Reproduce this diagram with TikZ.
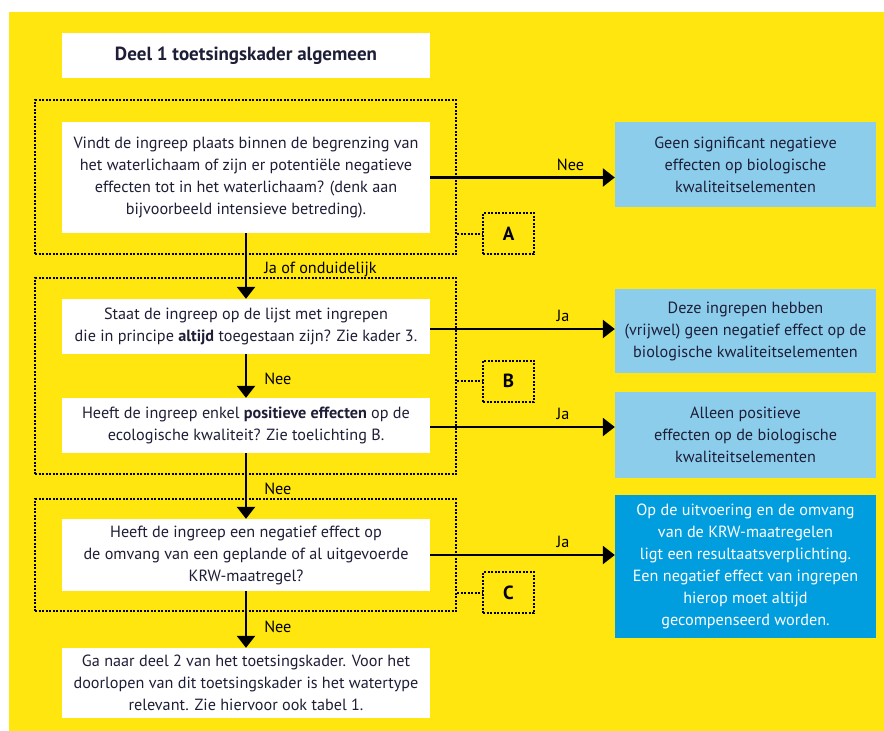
\documentclass[tikz,border=0pt]{standalone}
\usepackage{fontspec}
\setmainfont{PT Sans}
\usepackage{tikz}
\usetikzlibrary{arrows.meta}
\definecolor{geel}{RGB}{255,230,15}
\definecolor{lichtblauw}{RGB}{140,205,236}
\definecolor{donkerblauw}{RGB}{0,158,222}
\definecolor{inkt}{RGB}{30,30,55}

\begin{document}
\begin{tikzpicture}[x=1pt,y=-1pt,
    stip/.style={line width=2pt, dash pattern=on 2pt off 1.5pt},
    vraag/.style={fill=white, text=inkt, align=center, minimum width=368pt, inner sep=0pt, font=\fontsize{16.2}{22}\selectfont},
    uitkomst/.style={fill=lichtblauw, text=inkt, align=center, minimum width=261pt, inner sep=0pt, font=\fontsize{16.2}{22}\selectfont},
    kader/.style={draw, stip, minimum width=421pt, inner sep=0pt},
    letter/.style={draw, stip, minimum width=51pt, minimum height=41pt, inner sep=0pt, font=\fontsize{19}{19}\selectfont\bfseries},
    pijl/.style={line width=2.5pt, -{Triangle[width=18pt,length=12pt]}},
    lbl/.style={inner sep=0pt, font=\fontsize{16.2}{22}\selectfont}]
        % achtergrond
        \useasboundingbox (0,0) rectangle (884,731);
        \fill[white] (0,0) rectangle (884,731);
        \fill[geel] (9,12) rectangle (884,731);
        % kaders
        \node[kader, minimum height=154pt] (fa) at (245.5,177) {};
        \node[kader, minimum height=196pt] (fb) at (245.5,376) {};
        \node[kader, minimum height=112pt] (fc) at (245.5,555) {};
        % titel
        \node[vraag, minimum height=45pt, font=\fontsize{19}{22}\selectfont\bfseries] (titel) at (246,55.5) {Deel 1 toetsingskader algemeen};
        % vragen
        \node[vraag, minimum height=111pt] (q1) at (246,177.5) {Vindt de ingreep plaats binnen de begrenzing van\\het waterlichaam of zijn er potentiële negatieve\\effecten tot in het waterlichaam? (denk aan\\bijvoorbeeld intensieve betreding).};
        \node[vraag, minimum height=55pt] (q2) at (246,326.5) {Staat de ingreep op de lijst met ingrepen\\die in principe \textbf{altijd} toegestaan zijn? Zie kader 3.};
        \node[vraag, minimum height=55pt] (q3) at (246,425.5) {Heeft de ingreep enkel \textbf{positieve effecten} op de\\ecologische kwaliteit? Zie toelichting B.};
        \node[vraag, minimum height=72pt] (q4) at (246,555) {Heeft de ingreep een negatief effect op\\de omvang van een geplande of al uitgevoerde\\KRW-maatregel?};
        \node[vraag, minimum height=70pt] (q5) at (246,683) {Ga naar deel 2 van het toetsingskader. Voor het\\doorlopen van dit toetsingskader is het watertype\\relevant. Zie hiervoor ook tabel 1.};
        % uitkomsten
        \node[uitkomst, minimum height=85pt] (r1) at (745.5,164.5) {Geen significant negatieve\\effecten op biologische\\kwaliteitselementen};
        \node[uitkomst, minimum height=84pt] (r2) at (745.5,331) {Deze ingrepen hebben\\(vrijwel) geen negatief effect op de\\biologische kwaliteitselementen};
        \node[uitkomst, minimum height=86pt] (r3) at (745.5,435) {Alleen positieve\\effecten op de biologische\\kwaliteitselementen};
        \node[uitkomst, minimum height=143pt, fill=donkerblauw, text=white] (r4) at (745.5,566.5) {Op de uitvoering en de omvang\\van de KRW-maatregelen\\ligt een resultaatsverplichting.\\Een negatief effect van ingrepen\\hierop moet altijd\\gecompenseerd worden.};
        % letters
        \node[letter] (A) at (508.5,233.5) {A};
        \node[letter] (B) at (508.5,381) {B};
        \node[letter] (C) at (508.5,592.5) {C};
        \draw[stip] (A.west -| fa.east) -- (A.west);
        \draw[stip] (B.west -| fb.east) -- (B.west);
        \draw[stip] (C.west -| fc.east) -- (C.west);
        % pijlen naar beneden
        \draw[pijl] (q1) -- (q2) node[lbl, midway, right, xshift=17pt, yshift=-3pt] {Ja of onduidelijk};
        \draw[pijl] (q2) -- (q3) node[lbl, midway, right, xshift=17pt, yshift=-3pt] {Nee};
        \draw[pijl] (q3) -- (q4) node[lbl, midway, right, xshift=17pt, yshift=-3pt] {Nee};
        \draw[pijl] (q4) -- (q5) node[lbl, midway, right, xshift=17pt, yshift=-7pt] {Nee};
        % pijlen naar rechts
        \draw[pijl] (q1.east) -- (q1.east -| r1.west) node[lbl, pos=0.76, above=6pt] {Nee};
        \draw[pijl] ([yshift=-2.5pt]q2.east) -- ([yshift=-2.5pt]q2.east -| r2.west) node[lbl, pos=0.72, above=6pt] {Ja};
        \draw[pijl] ([yshift=-1.5pt]q3.east) -- ([yshift=-1.5pt]q3.east -| r3.west) node[lbl, pos=0.72, above=6pt] {Ja};
        \draw[pijl] (q4.east) -- (q4.east -| r4.west) node[lbl, pos=0.72, above=6pt] {Ja};
\end{tikzpicture}
\end{document}
